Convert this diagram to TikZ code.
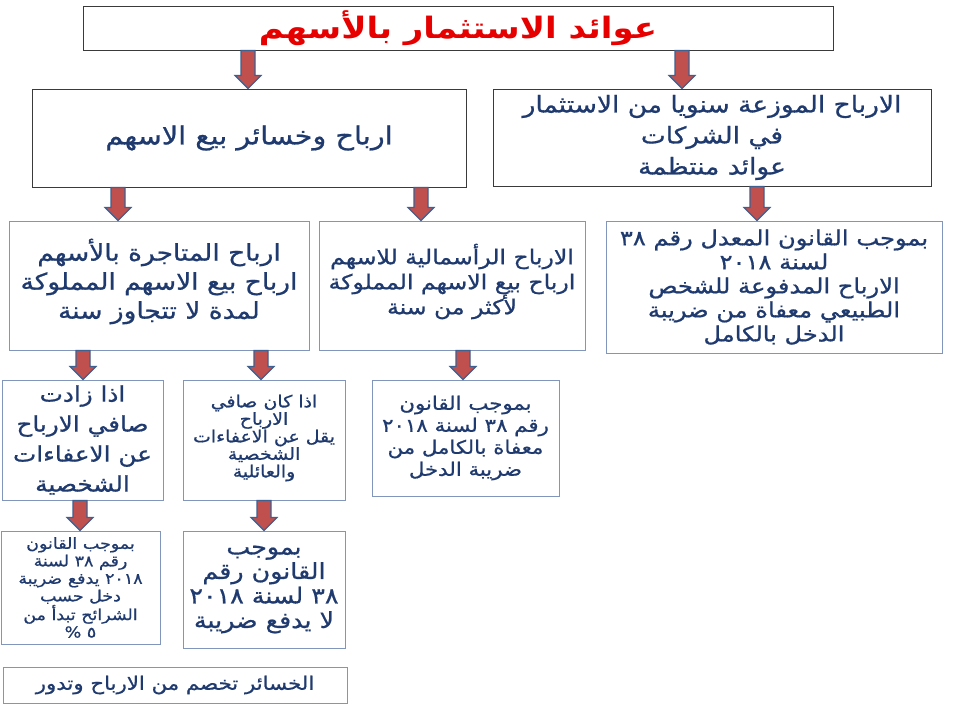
\documentclass[tikz,border=0pt]{standalone}
\usepackage{fontspec}
\usetikzlibrary{calc}
\newfontfamily\arabicfont[Script=Arabic, FakeStretch=1.15, FakeBold=0.8]{DejaVu Sans}
\newfontfamily\arabictitle[Script=Arabic, FakeStretch=1.15]{DejaVu Sans Bold}
\TeXXeTstate=1
\newcommand\ar[1]{\beginR #1\endR}
\newcommand\num[1]{\beginL #1\endL}
\definecolor{navy}{HTML}{1F3A6E}
\definecolor{titlered}{HTML}{E60000}
\definecolor{topline}{HTML}{3A3A3A}
\definecolor{lowline}{HTML}{8196BA}
\definecolor{arrfill}{HTML}{C0504D}
\definecolor{arrline}{HTML}{3F5F8F}
\tikzset{
  topbox/.style={draw=topline, line width=0.9pt, fill=white, align=center, inner sep=0pt, text=navy},
  lowbox/.style={draw=lowline, line width=0.9pt, fill=white, align=center, inner sep=0pt, text=navy},
  boxtext/.style={align=center, inner sep=0pt, text=navy},
  blockarrow/.style={draw=arrline, line width=1.2pt, fill=arrfill, line join=miter},
}
\newcommand\fs[2]{\arabicfont\fontsize{#1}{#2}\selectfont}
\newcommand\blockarrow[3]{%
  \draw[blockarrow] let \p1=(#2.south -| #1,0), \p2=(#3.north -| #1,0) in
    (\x1-7pt,\y1) -- (\x1+7pt,\y1) -- (\x1+7pt,\y2+13pt) -- (\x1+13pt,\y2+13pt)
    -- (\x1,\y2) -- (\x1-13pt,\y2+13pt) -- (\x1-7pt,\y2+13pt) -- cycle;}
\begin{document}
\begin{tikzpicture}[x=1pt,y=-1pt]
\useasboundingbox[fill=white] (0,0) rectangle (956,717);
% top
\node[topbox, minimum width=750, minimum height=44, text=titlered, font={\arabictitle\fontsize{29.5}{34}\selectfont}] (t) at (458,28) {\beginR عوائد الاستثمار بالأسهم\endR};
\node[topbox, minimum width=434, minimum height=98, font={\fs{25}{30}}] (a) at (249,138) {\beginR ارباح وخسائر بيع الاسهم\endR};
\node[topbox, minimum width=438, minimum height=97, font={\fs{23}{31}}] (b) at (712,137.5) {\beginR الارباح الموزعة سنويا من الاستثمار\endR\\ \beginR في الشركات\endR\\ \beginR عوائد منتظمة\endR};
% second row
\node[lowbox, minimum width=300, minimum height=129,
  label={[boxtext, yshift=4pt, font={\fs{23}{29}}]center:{\beginR ارباح المتاجرة بالأسهم\endR\\ \beginR ارباح بيع الاسهم المملوكة\endR\\ \beginR لمدة لا تتجاوز سنة\endR}}] (c) at (159,285.5) {};
\node[lowbox, minimum width=266, minimum height=129,
  label={[boxtext, yshift=4pt, font={\fs{20.5}{25}}]center:{\beginR الارباح الرأسمالية للاسهم\endR\\ \beginR ارباح بيع الاسهم المملوكة\endR\\ \beginR لأكثر من سنة\endR}}] (d) at (452,285.5) {};
\node[lowbox, minimum width=336, minimum height=132, font={\fs{21}{24}}] (e) at (774,287) {\beginR بموجب القانون المعدل رقم \beginL ٣٨\endL\endR\\ \beginR لسنة \beginL ٢٠١٨\endL\endR\\ \beginR الارباح المدفوعة للشخص\endR\\ \beginR الطبيعي معفاة من ضريبة\endR\\ \beginR الدخل بالكامل\endR};
% third row
\node[lowbox, minimum width=161, minimum height=120, font={\fs{21.5}{30}}] (f) at (82.5,440) {\beginR اذا زادت\endR\\ \beginR صافي الارباح\endR\\ \beginR عن الاعفاءات\endR\\ \beginR الشخصية\endR};
\node[lowbox, minimum width=162, minimum height=120,
  label={[boxtext, yshift=2pt, font={\fs{16.5}{17.5}}]center:{\beginR اذا كان صافي\endR\\ \beginR الارباح\endR\\ \beginR يقل عن الاعفاءات\endR\\ \beginR الشخصية\endR\\ \beginR والعائلية\endR}}] (g) at (264,440) {};
\node[lowbox, minimum width=187, minimum height=116, font={\fs{18.5}{22}}] (h) at (465.5,438) {\beginR بموجب القانون\endR\\ \beginR رقم \beginL ٣٨\endL{} لسنة \beginL ٢٠١٨\endL\endR\\ \beginR معفاة بالكامل من\endR\\ \beginR ضريبة الدخل\endR};
% fourth row
\node[lowbox, minimum width=159, minimum height=113, font={\fs{15.2}{17.5}}] (i) at (80.5,587.5) {\beginR بموجب القانون\endR\\ \beginR رقم \beginL ٣٨\endL{} لسنة\endR\\ \beginR \beginL ٢٠١٨\endL{} يدفع ضريبة\endR\\ \beginR دخل حسب\endR\\ \beginR الشرائح تبدأ من\endR\\ \beginR ٥ \%\endR};
\node[lowbox, minimum width=162, minimum height=117, font={\fs{22}{24.5}}] (j) at (264,589.5) {\beginR بموجب\endR\\ \beginR القانون رقم\endR\\ \beginR \beginL ٣٨\endL{} لسنة \beginL ٢٠١٨\endL\endR\\ \beginR لا يدفع ضريبة\endR};
\node[lowbox, minimum width=344, minimum height=36, font={\fs{18.5}{20}}] (k) at (175,685) {\beginR الخسائر تخصم من الارباح وتدور\endR};
% arrows
\blockarrow{248}{t}{a}
\blockarrow{682}{t}{b}
\blockarrow{118}{a}{c}
\blockarrow{421}{a}{d}
\blockarrow{757}{b}{e}
\blockarrow{83}{c}{f}
\blockarrow{261}{c}{g}
\blockarrow{463}{d}{h}
\blockarrow{80}{f}{i}
\blockarrow{264}{g}{j}
\end{tikzpicture}
\end{document}
